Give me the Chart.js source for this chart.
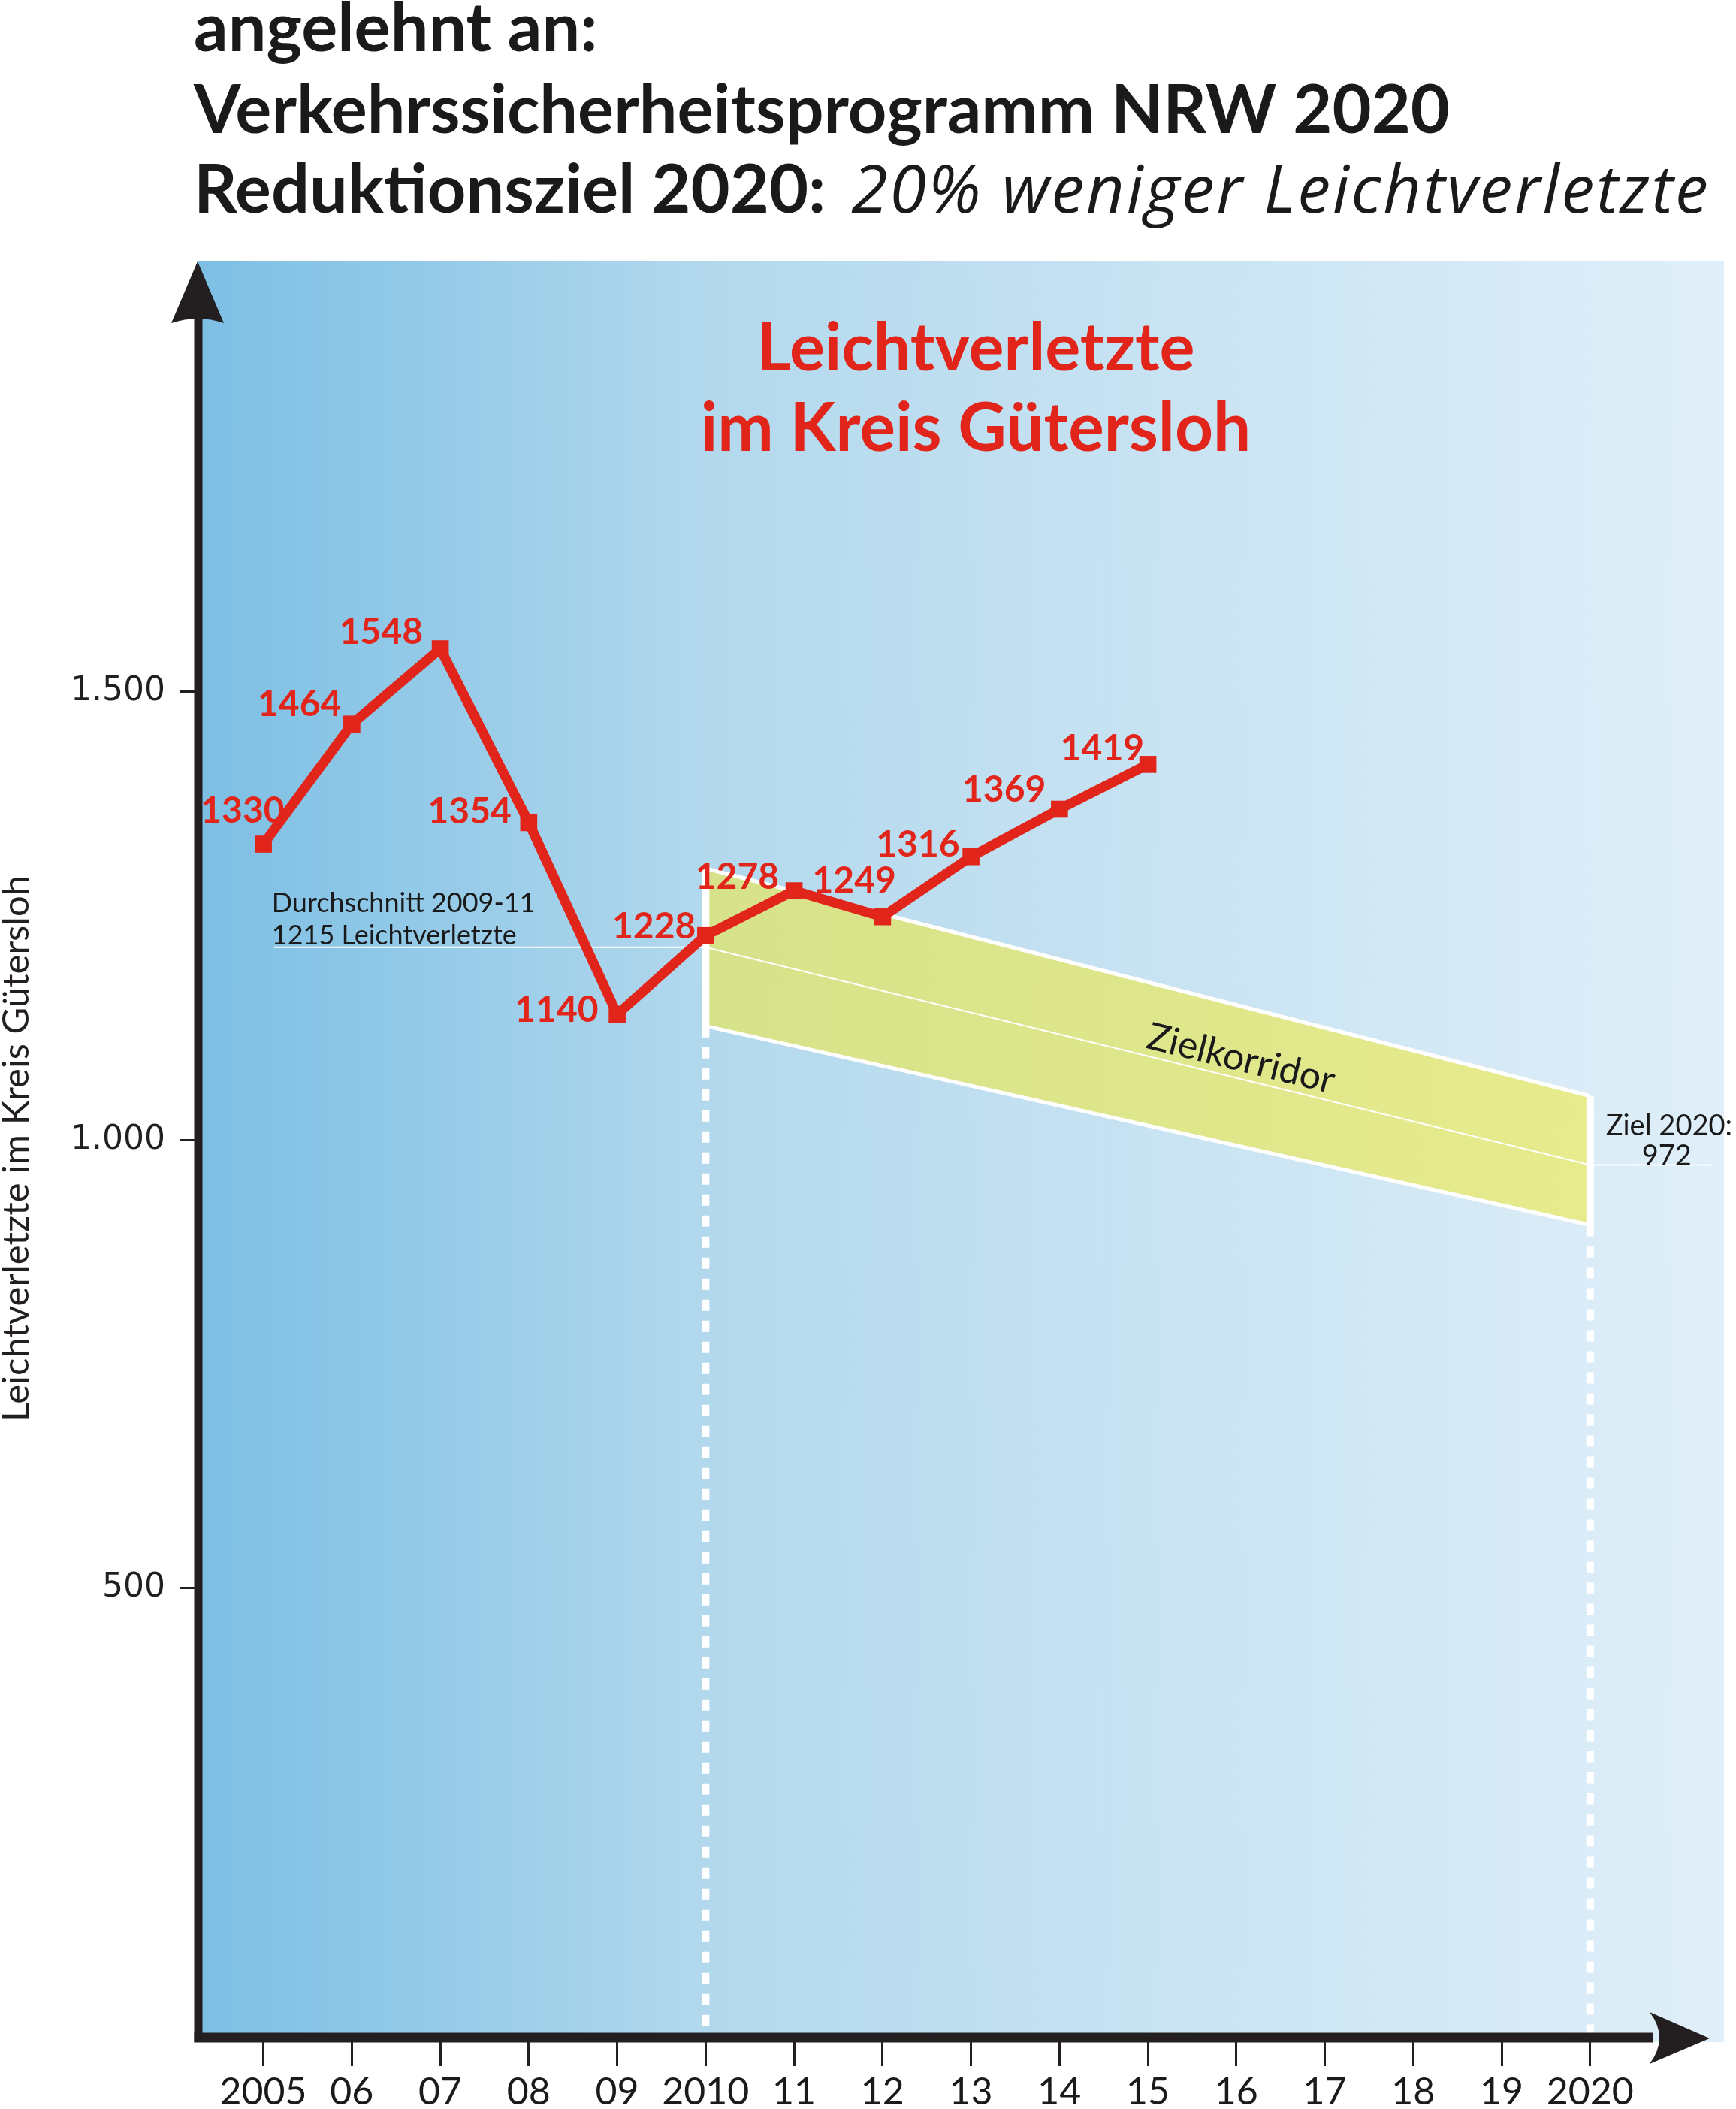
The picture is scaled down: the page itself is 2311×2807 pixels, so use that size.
<!DOCTYPE html>
<html><head><meta charset="utf-8">
<script src="https://cdn.jsdelivr.net/npm/chart.js@4/dist/chart.umd.min.js"></script>
<style>html,body{margin:0;padding:0;background:#fff;}canvas{display:block;}</style>
</head><body>
<canvas id="c" width="2311" height="2807"></canvas>
<script>
// ---- data ----
const years = [2005, 2006, 2007, 2008, 2009, 2010, 2011, 2012, 2013, 2014, 2015];
const injured = [1330, 1464, 1548, 1354, 1140, 1228, 1278, 1249, 1316, 1369, 1419];
const xTickYears = [2005, 2006, 2007, 2008, 2009, 2010, 2011, 2012, 2013, 2014, 2015, 2016, 2017, 2018, 2019, 2020];
const xTickLabels = ['2005', '06', '07', '08', '09', '2010', '11', '12', '13', '14', '15', '16', '17', '18', '19', '2020'];
const yTickValues = [500, 1000, 1500];
const yTickLabels = ['500', '1.000', '1.500'];
const avgYears = [2005.12, 2010, 2020, 2021.38];
const avgValues = [1215, 1215, 972, 972];
const corridorYears = [2010, 2020];
const corridorUpper = [1303, 1049];
const corridorLower = [1127, 905];
const targetValue = 972;
const averageValue = 1215;
// label placement (pixel offsets, style only)
const labelOffsets = [[28,-29],[-14,-11],[-23,-6],[-23,1],[-25,10],[-13,4],[-20,-3],[18,-32],[-15,0],[-18,-10],[-5,-5]];

const RED = '#e1251b';
const INK = '#231f20';
const pts = (xs, ys) => xs.map((x, i) => ({x: x, y: ys[i]}));

const bgPlugin = {
  id: 'bg',
  beforeDraw(chart) {
    const {ctx, chartArea: a} = chart;
    const g = ctx.createLinearGradient(a.left, 0, a.right, 0);
    g.addColorStop(0, '#7dbfe4');
    g.addColorStop(0.15, '#94cae8');
    g.addColorStop(0.33, '#b2d8ed');
    g.addColorStop(0.6, '#c6e2f2');
    g.addColorStop(1, '#e0eff9');
    ctx.save();
    ctx.fillStyle = g;
    ctx.fillRect(a.left, a.top, a.right - a.left, a.bottom - a.top + 8);
    ctx.restore();
  }
};

const textPlugin = {
  id: 'texts',
  afterDatasetsDraw(chart) {
    const {ctx, scales: {x, y}} = chart;
    ctx.save();
    // data labels
    const meta = chart.getDatasetMeta(0);
    ctx.fillStyle = RED;
    ctx.font = 'bold 48px Lato';
    ctx.textAlign = 'right';
    ctx.textBaseline = 'alphabetic';
    meta.data.forEach((p, i) => {
      const o = labelOffsets[i];
      ctx.fillText(String(injured[i]), p.x + o[0], p.y + o[1]);
    });
    // average annotation
    ctx.fillStyle = '#1a1a1a';
    ctx.font = '36px Lato';
    ctx.textAlign = 'left';
    const ax = x.getPixelForValue(avgYears[0]) - 3;
    const ay = y.getPixelForValue(averageValue) - 4;
    ctx.fillText('Durchschnitt 2009-11', ax, ay - 43);
    ctx.fillText(averageValue + ' Leichtverletzte', ax, ay);
    // target annotation
    ctx.font = '38px Lato';
    ctx.textAlign = 'center';
    const tx = x.getPixelForValue(2020) + 105;
    const ty = y.getPixelForValue(targetValue);
    ctx.fillText('Ziel 2020:', tx, ty - 40);
    ctx.fillText(String(targetValue), tx - 3, ty);
    // Zielkorridor
    const x0 = x.getPixelForValue(2010), y0 = y.getPixelForValue(averageValue);
    const x1 = x.getPixelForValue(2020), y1 = y.getPixelForValue(targetValue);
    const ang = Math.atan2(y1 - y0, x1 - x0);
    const f = 0.6;
    ctx.translate(x0 + (x1 - x0) * f, y0 + (y1 - y0) * f);
    ctx.rotate(ang);
    ctx.font = '50px Lato';
    ctx.fillStyle = '#1a1a1a';
    ctx.textBaseline = 'middle';
    ctx.fillText('Zielkorridor', 0, -26);
    ctx.restore();
  },
  afterDraw(chart) {
    const {ctx, chartArea: a} = chart;
    ctx.save();
    ctx.fillStyle = INK;
    // y axis
    const ax = a.left;
    ctx.fillRect(ax - 5.5, a.top + 70, 11, a.bottom + 8 - (a.top + 70));
    ctx.beginPath();
    ctx.moveTo(ax - 1, a.top + 1);
    ctx.lineTo(ax + 34, a.top + 83);
    ctx.quadraticCurveTo(ax, a.top + 71, ax - 36, a.top + 83);
    ctx.closePath();
    ctx.fill();
    // x axis
    const by = a.bottom + 2;
    ctx.fillRect(ax - 5.5, by - 6.5, (a.right - 95) - (ax - 5.5), 13);
    const tipX = a.right - 19;
    ctx.beginPath();
    ctx.moveTo(tipX, by + 1);
    ctx.lineTo(tipX - 80, by - 34);
    ctx.quadraticCurveTo(tipX - 54, by, tipX - 80, by + 35);
    ctx.closePath();
    ctx.fill();

    // headings
    ctx.fillStyle = '#1a1a1a';
    ctx.textAlign = 'left';
    ctx.textBaseline = 'alphabetic';
    ctx.font = 'bold 90px Lato';
    ctx.fillText('angelehnt an:', 258, 68);
    ctx.fillText('Verkehrssicherheitsprogramm NRW 2020', 258, 177);
    const part1 = 'Reduktionsziel 2020:';
    ctx.fillText(part1, 258, 283);
    const w1 = ctx.measureText(part1).width;
    ctx.font = 'italic 88px "Open Sans"';
    ctx.letterSpacing = '2.7px';
    ctx.fillText('20% weniger Leichtverletzte', 258 + w1 + 34, 283);
    ctx.letterSpacing = '0px';

    // chart title
    ctx.fillStyle = RED;
    ctx.textAlign = 'center';
    ctx.font = 'bold 88px Lato';
    ctx.fillText('Leichtverletzte', 1299, 493);
    ctx.font = 'bold 89px Lato';
    ctx.fillText('im Kreis Gütersloh', 1299, 600);
    ctx.restore();
  }
};

const corridorFill = (c) => {
  const a = c.chart.chartArea;
  if (!a) return 'rgb(222,230,140)';
  const xs = c.chart.scales.x;
  const g = c.chart.ctx.createLinearGradient(xs.getPixelForValue(2010), 0, xs.getPixelForValue(2020), 0);
  g.addColorStop(0, 'rgb(214,226,138)');
  g.addColorStop(1, 'rgb(231,235,140)');
  return g;
};

new Chart(document.getElementById('c'), {
  type: 'line',
  data: {
    datasets: [
      { label: 'Leichtverletzte', data: pts(years, injured), borderColor: RED, backgroundColor: RED,
        borderWidth: 13, borderJoinStyle: 'miter', pointStyle: 'rect', pointRadius: 16, pointHoverRadius: 16,
        pointBorderWidth: 0, pointBackgroundColor: RED, tension: 0, fill: false },
      { label: 'Durchschnitt', data: pts(avgYears, avgValues), borderColor: '#ffffff', borderWidth: 2,
        pointRadius: 0, fill: false },
      { label: 'v2010', data: pts([corridorYears[0], corridorYears[0]], [corridorUpper[0], corridorLower[0]]),
        borderColor: '#ffffff', borderWidth: 10, pointRadius: 0, fill: false, borderCapStyle: 'butt' },
      { label: 'v2020', data: pts([corridorYears[1], corridorYears[1]], [corridorUpper[1], corridorLower[1]]),
        borderColor: '#ffffff', borderWidth: 10, pointRadius: 0, fill: false, borderCapStyle: 'butt' },
      { label: 'd2010', data: pts([corridorYears[0], corridorYears[0]], [corridorLower[0], 0]),
        borderColor: '#ffffff', borderWidth: 10, borderDash: [15, 13], pointRadius: 0, fill: false, borderCapStyle: 'butt' },
      { label: 'd2020', data: pts([corridorYears[1], corridorYears[1]], [corridorLower[1], 0]),
        borderColor: '#ffffff', borderWidth: 10, borderDash: [15, 13], pointRadius: 0, fill: false, borderCapStyle: 'butt' },
      { label: 'Zielkorridor oben', data: pts(corridorYears, corridorUpper), borderColor: '#ffffff', borderWidth: 5,
        pointRadius: 0, fill: '+1', backgroundColor: corridorFill },
      { label: 'Zielkorridor unten', data: pts(corridorYears, corridorLower), borderColor: '#ffffff', borderWidth: 5,
        pointRadius: 0, fill: false }
    ]
  },
  options: {
    responsive: false,
    devicePixelRatio: 1,
    animation: false,
    events: [],
    layout: { padding: { top: 347, left: 0, right: 7, bottom: 0 } },
    plugins: {
      legend: { display: false },
      tooltip: { enabled: false },
      title: { display: false },
      filler: { drawTime: 'beforeDatasetsDraw' }
    },
    scales: {
      x: {
        type: 'linear', min: 2004.2644, max: 2021.513,
        afterBuildTicks: (s) => { s.ticks = xTickYears.map(v => ({ value: v })); },
        afterFit: (s) => { s.height = 97; },
        ticks: { callback: (v, i) => xTickLabels[i], font: { family: 'Lato', size: 50 }, color: '#1a1a1a',
                 padding: 5, maxRotation: 0, minRotation: 0, autoSkip: false },
        grid: { drawOnChartArea: false, drawTicks: true, tickLength: 40, tickWidth: 3, tickColor: INK },
        border: { display: false }
      },
      y: {
        min: 0, max: 1981,
        afterBuildTicks: (s) => { s.ticks = yTickValues.map(v => ({ value: v })); },
        afterFit: (s) => { s.width = 264; },
        ticks: { callback: (v, i) => yTickLabels[i], font: { family: 'DejaVu Sans', size: 44 }, color: INK, padding: 20 },
        grid: { drawOnChartArea: false, drawTicks: true, tickLength: 24, tickWidth: 3, tickColor: INK },
        border: { display: false },
        title: { display: true, text: 'Leichtverletzte im Kreis Gütersloh', color: INK,
                 font: { family: 'Lato', size: 49, lineHeight: 0.9 }, padding: 0 }
      }
    }
  },
  plugins: [bgPlugin, textPlugin]
});
</script>
</body></html>
